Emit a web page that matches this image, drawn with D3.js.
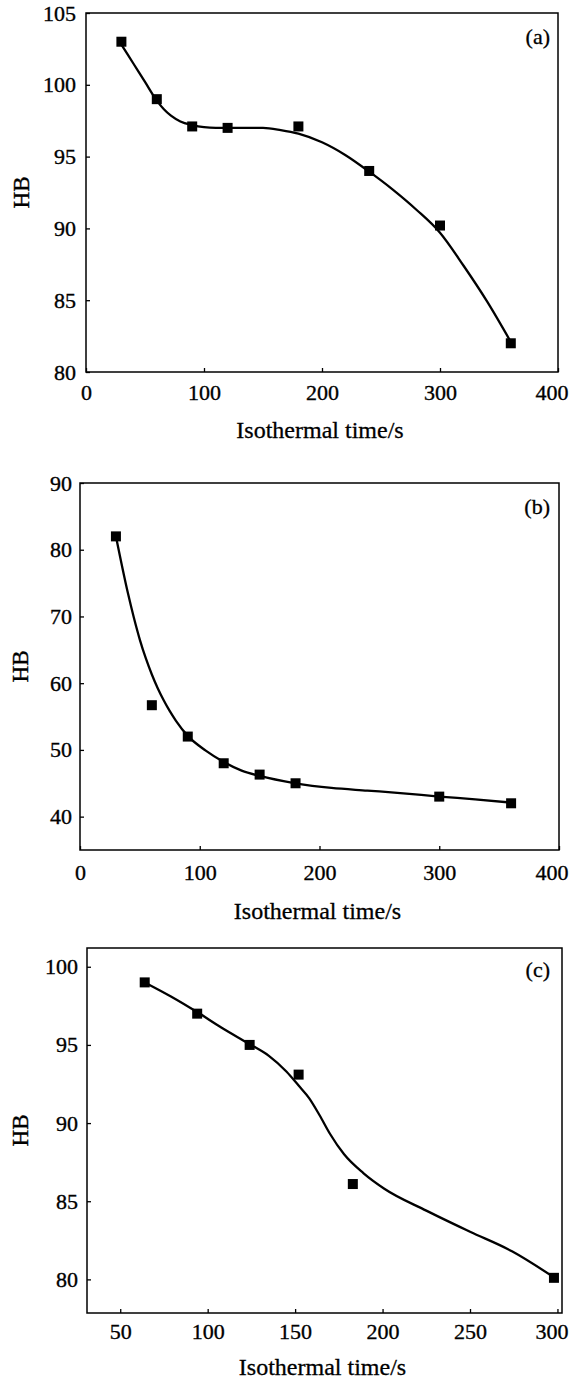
<!DOCTYPE html>
<html>
<head>
<meta charset="utf-8">
<script src="https://cdn.jsdelivr.net/npm/d3@7"></script>
<style>
  html, body { margin: 0; padding: 0; background: #fff; }
  svg { display: block; }
  text { font-family: "Liberation Serif", "Times New Roman", serif; fill: #000; }
</style>
</head>
<body>
<svg id="chart" width="571" height="1386"></svg>
<script>
// ---------- data ----------
// Panel (a)
const timeA = [30, 60, 90, 120, 180, 240, 300, 360];
const hbA   = [103, 99, 97.1, 97, 97.1, 94, 90.2, 82];
const fitTimeA = [30, 40, 50, 60, 66, 72, 80, 90, 100, 110, 130, 150, 165, 180, 200, 220, 240, 260, 280, 300, 320, 340, 360];
const fitHbA   = [102.8, 101.5, 100.2, 98.9, 98.3, 97.85, 97.45, 97.2, 97.05, 97.0, 97.0, 97.0, 96.85, 96.6, 96.0, 95.1, 93.95, 92.7, 91.3, 89.7, 87.4, 84.9, 82.1];
const xTicksA = [0, 100, 200, 300, 400];
const yTicksA = [80, 85, 90, 95, 100, 105];

// Panel (b)
const timeB = [30, 60, 90, 120, 150, 180, 300, 360];
const hbB   = [82, 56.7, 52, 48, 46.3, 45, 43, 42];
const fitTimeB = [30, 40, 45, 50, 55, 60, 65, 70, 75, 80, 90, 105, 120, 135, 150, 180, 210, 240, 270, 300, 330, 360];
const fitHbB   = [82, 73.5, 69.8, 66.5, 63.7, 61.3, 59.2, 57.4, 55.8, 54.4, 52.1, 49.9, 48.2, 46.9, 46.1, 45.0, 44.3, 43.9, 43.5, 43.0, 42.6, 42.1];
const xTicksB = [0, 100, 200, 300, 400];
const yTicksB = [40, 50, 60, 70, 80, 90];

// Panel (c)
const timeC = [64, 94, 124, 152, 183, 298];
const hbC   = [99, 97, 95, 93.1, 86.1, 80.1];
const fitTimeC = [64, 79, 94, 108, 124, 135, 145, 152, 158, 164, 170, 178, 189, 201, 225, 250, 274, 298];
const fitHbC   = [99, 98.1, 97.1, 96.1, 95.05, 94.3, 93.3, 92.4, 91.6, 90.5, 89.3, 88.0, 86.8, 85.8, 84.4, 83.05, 81.8, 80.13];
const xTicksC = [50, 100, 150, 200, 250, 300];
const yTicksC = [80, 85, 90, 95, 100];

const panelLabels = ["(a)", "(b)", "(c)"];
const xTitle = "Isothermal time/s";
const yTitle = "HB";

// ---------- layout ----------
const panels = [
  { t: timeA, v: hbA, ft: fitTimeA, fv: fitHbA, xt: xTicksA, yt: yTicksA,
    xd: [0, 400], yd: [80, 105], left: 86, right: 558, top: 13, bottom: 372,
    xPad: 12.5, yPad: 10, xTitleY: 438, yTitleX: 21, label: panelLabels[0], labelY: 44 },
  { t: timeB, v: hbB, ft: fitTimeB, fv: fitHbB, xt: xTicksB, yt: yTicksB,
    xd: [0, 400], yd: [35, 90], left: 80, right: 559, top: 483, bottom: 850,
    xPad: 14.5, yPad: 8, xTitleY: 919, yTitleX: 20, label: panelLabels[1], labelY: 514 },
  { t: timeC, v: hbC, ft: fitTimeC, fv: fitHbC, xt: xTicksC, yt: yTicksC,
    xd: [31, 302.6], yd: [77.85, 101.2], left: 87, right: 562, top: 948, bottom: 1313,
    xPad: 10, yPad: 9, xTitleY: 1375, yTitleX: 20, label: panelLabels[2], labelY: 977 }
];

const svg = d3.select("#chart");

panels.forEach(p => {
  const x = d3.scaleLinear().domain(p.xd).range([p.left, p.right]);
  const y = d3.scaleLinear().domain(p.yd).range([p.bottom, p.top]);
  const g = svg.append("g");

  // x axis
  const xa = g.append("g")
    .attr("transform", `translate(0,${p.bottom})`)
    .call(d3.axisBottom(x).tickValues(p.xt).tickFormat(d3.format("d"))
      .tickSizeInner(-4).tickSizeOuter(0).tickPadding(p.xPad));
  xa.select(".domain").remove();
  xa.selectAll("line").attr("stroke", "#000").attr("stroke-width", 1.3);
  xa.selectAll("text").attr("font-size", 22).attr("font-family", "Liberation Serif")
    .attr("stroke", "#000").attr("stroke-width", 0.35);
  // keep the last label inside the picture, as in the reference
  xa.selectAll(".tick").filter((d, i, n) => i === n.length - 1).select("text")
    .attr("text-anchor", "end").attr("x", 568 - x(p.xt[p.xt.length - 1]));

  // y axis
  const ya = g.append("g")
    .attr("transform", `translate(${p.left},0)`)
    .call(d3.axisLeft(y).tickValues(p.yt).tickFormat(d3.format("d"))
      .tickSizeInner(-4).tickSizeOuter(0).tickPadding(p.yPad));
  ya.select(".domain").remove();
  ya.selectAll("line").attr("stroke", "#000").attr("stroke-width", 1.3);
  ya.selectAll("text").attr("font-size", 22).attr("font-family", "Liberation Serif")
    .attr("stroke", "#000").attr("stroke-width", 0.35);

  // frame
  g.append("rect")
    .attr("x", p.left).attr("y", p.top)
    .attr("width", p.right - p.left).attr("height", p.bottom - p.top)
    .attr("fill", "none").attr("stroke", "#000").attr("stroke-width", 1.5);

  // fitted curve
  const fit = p.ft.map((d, i) => [d, p.fv[i]]);
  g.append("path")
    .datum(fit)
    .attr("fill", "none").attr("stroke", "#000").attr("stroke-width", 2.3)
    .attr("stroke-linejoin", "round")
    .attr("d", d3.line().x(d => x(d[0])).y(d => y(d[1])).curve(d3.curveMonotoneX));

  // markers
  const s = 10;
  g.selectAll("rect.pt")
    .data(p.t.map((d, i) => [d, p.v[i]]))
    .join("rect").attr("class", "pt")
    .attr("x", d => x(d[0]) - s / 2).attr("y", d => y(d[1]) - s / 2)
    .attr("width", s).attr("height", s).attr("fill", "#000");

  // titles
  g.append("text")
    .attr("x", (p.left + p.right) / 2 - 2).attr("y", p.xTitleY)
    .attr("text-anchor", "middle").attr("font-size", 24)
    .attr("stroke", "#000").attr("stroke-width", 0.3)
    .text(xTitle);
  g.append("text")
    .attr("transform", `translate(${p.yTitleX + 8},${(p.top + p.bottom) / 2}) rotate(-90)`)
    .attr("text-anchor", "middle").attr("font-size", 23)
    .attr("stroke", "#000").attr("stroke-width", 0.4)
    .text(yTitle);

  // panel label
  g.append("text")
    .attr("x", 550).attr("y", p.labelY)
    .attr("text-anchor", "end").attr("font-size", 22)
    .attr("stroke", "#000").attr("stroke-width", 0.3)
    .text(p.label);
});
</script>
</body>
</html>
